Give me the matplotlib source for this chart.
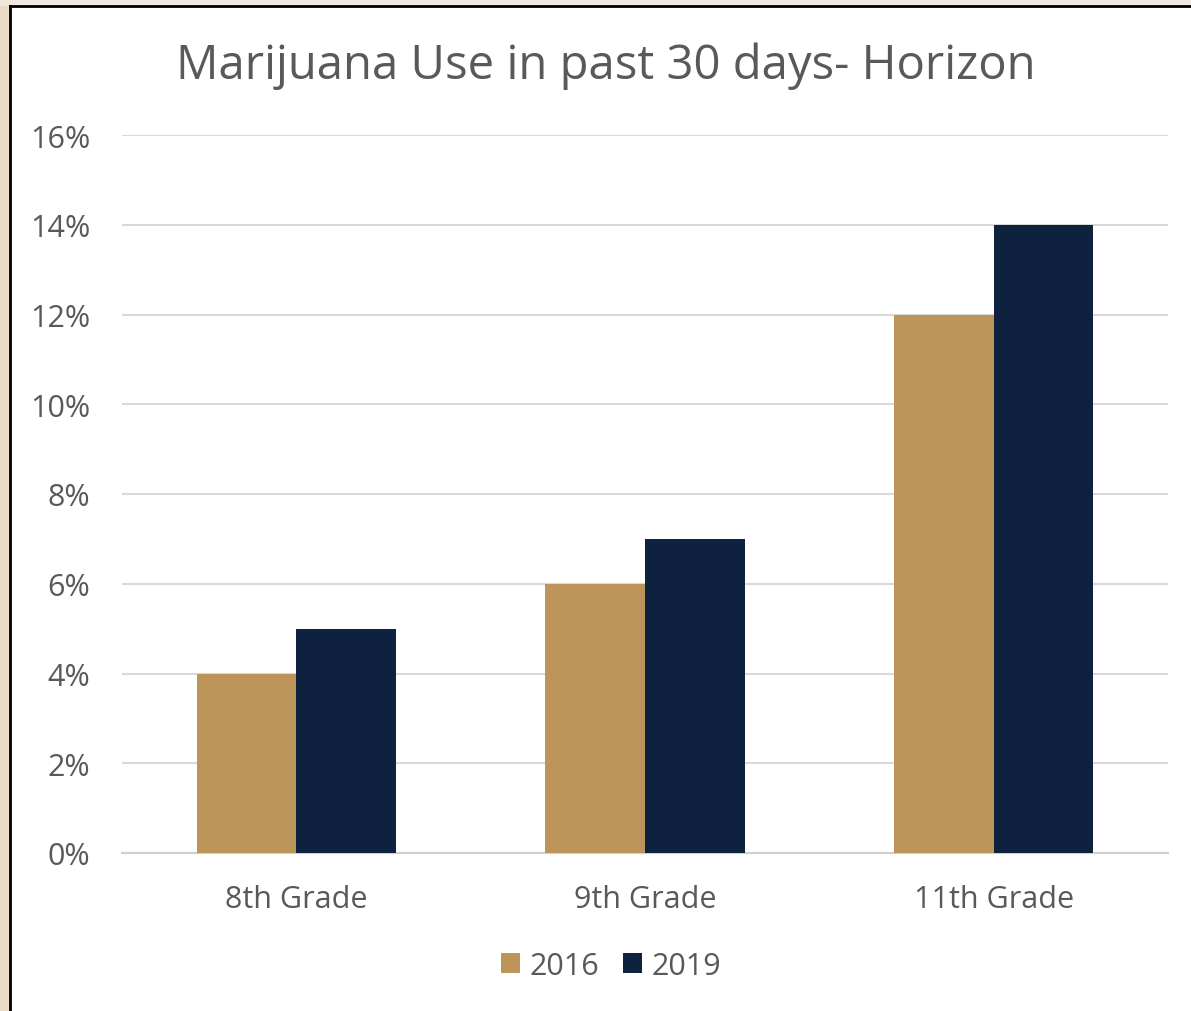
import matplotlib
matplotlib.use("Agg")
import matplotlib.pyplot as plt
from matplotlib.patches import Rectangle
from matplotlib.ticker import FuncFormatter
import numpy as np

categories = ["8th Grade", "9th Grade", "11th Grade"]
series_names = ["2016", "2019"]
values_2016 = [4, 6, 12]
values_2019 = [5, 7, 14]
yticks = [0, 2, 4, 6, 8, 10, 12, 14, 16]

colors = ["#BD955A", "#0E2240"]
text_color = "#595959"
plt.rcParams['font.family'] = ['Open Sans', 'DejaVu Sans']

W, H = 1191, 1012
fig = plt.figure(figsize=(W/100, H/100), dpi=100)
fig.patch.set_facecolor("white")

# beige frame strips and black border
fig.add_artist(Rectangle((0, 0), 9/W, 1, transform=fig.transFigure, color="#E8DCC6", zorder=0))
fig.add_artist(Rectangle((0, 1-6/H), 1, 6/H, transform=fig.transFigure, color="#F0E8DC", zorder=0))
fig.add_artist(plt.Line2D([9.5/W, 9.5/W], [0, 1-6.5/H], transform=fig.transFigure, color="black", lw=2, zorder=1))
fig.add_artist(plt.Line2D([9.5/W, 1], [1-6.5/H, 1-6.5/H], transform=fig.transFigure, color="black", lw=2, zorder=1))

ax = fig.add_axes([122/W, 1-854/H, (1168-122)/W, (854-136)/H])
x = np.arange(len(categories))
bw = 0.286
ax.bar(x - bw/2, values_2016, width=bw, color=colors[0], label=series_names[0], zorder=3)
ax.bar(x + bw/2, values_2019, width=bw, color=colors[1], label=series_names[1], zorder=3)

ax.set_xlim(-0.5, 2.5)
ax.set_ylim(0, 16)
ax.set_yticks(yticks)
ax.yaxis.set_major_formatter(FuncFormatter(lambda v, p: f"{v:.0f}%"))
ax.set_xticks(x)
ax.set_xticklabels(categories)
ax.grid(axis="y", color="#D9D9D9", lw=1.5, zorder=0)
ax.set_axisbelow(True)
for s in ["top", "right", "left"]:
    ax.spines[s].set_visible(False)
ax.spines["bottom"].set_color("#D0D0D0")
ax.spines["bottom"].set_linewidth(1.5)
ax.tick_params(axis="both", length=0, labelsize=22, colors=text_color)
ax.tick_params(axis="y", pad=23)
ax.tick_params(axis="x", pad=22)

fig.text(606/W, 1-66/H, "Marijuana Use in past 30 days- Horizon", ha="center", va="center",
         fontsize=34, color=text_color)

leg = fig.legend(loc="center", bbox_to_anchor=(611/W, 1-967/H), ncol=2, frameon=False,
                 fontsize=22, handlelength=0.62, handleheight=0.62, handletextpad=0.3,
                 columnspacing=0.8, labelcolor=text_color)

fig.savefig("out.png", dpi=100, facecolor=fig.get_facecolor())
